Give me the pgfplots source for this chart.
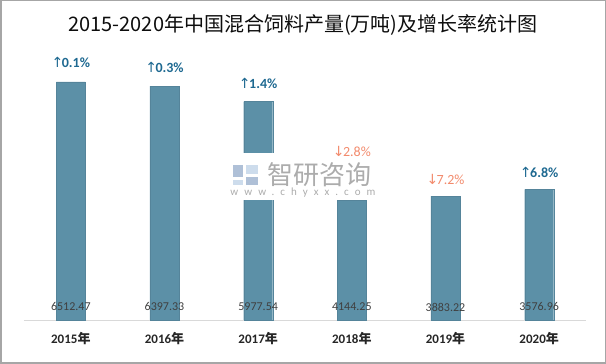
\documentclass[border=0pt]{standalone}
\usepackage{pgfplots}
\pgfplotsset{compat=1.18}
\usepackage{pgfplotstable}
\usepackage{fontspec}
\setmainfont{Carlito}
\newfontfamily\cjk{Noto Sans CJK SC}
\newfontfamily\arrowfont{DejaVu Sans}
\definecolor{barc}{RGB}{92,144,167}
\definecolor{upc}{RGB}{30,105,145}
\definecolor{downc}{RGB}{242,138,108}
\definecolor{valc}{RGB}{64,64,64}
\definecolor{wm}{RGB}{172,172,172}
\definecolor{logoa}{RGB}{205,220,236}
\definecolor{logob}{RGB}{175,192,215}

% visual bar heights and printed values
\pgfplotstableread{
x h lab ly
0 6512.47 6512.47 356
1 6397.33 6397.33 356
2 5977.54 5977.54 356
3 3283 4144.25 356
4 3393 3883.22 356
5 3576.96 3576.96 356
}\prod

\pgfplotstableread{
x y t
0 7059 0.1
1 6923 0.3
2 6485 1.4
5 4050 6.8
}\up

\pgfplotstableread{
x y t
3 4624 2.8
4 3858 7.2
}\down

\begin{document}
\begin{tikzpicture}
\useasboundingbox (0,0) rectangle (606pt,364pt);
\begin{axis}[
  at={(24pt,44pt)}, anchor=south west,
  scale only axis, width=562pt, height=260pt,
  xmin=-0.5, xmax=5.5, ymin=0, ymax=7114.5,
  axis y line=none,
  axis x line*=bottom,
  axis line style={-, draw=black!15, line width=0.8pt},
  xtick={0,1,2,3,4,5},
  xticklabels={{2015{\cjk 年}},{2016{\cjk 年}},{2017{\cjk 年}},{2018{\cjk 年}},{2019{\cjk 年}},{2020{\cjk 年}}},
  major tick length=0pt,
  xticklabel style={font=\fontsize{13}{15}\selectfont\bfseries, text=black!85, yshift=-9pt},
  clip=false,
]
\addplot[ybar, bar width=29pt, fill=barc, draw=barc!92!black, line width=0.3pt] table[x=x, y=h] {\prod};
\addplot[draw=none, mark=none, nodes near coords, point meta=explicit symbolic,
  nodes near coords align={center},
  every node near coord/.append style={font=\fontsize{12}{14}\selectfont, text=valc}]
  table[x=x, y=ly, meta=lab] {\prod};
\addplot[draw=none, mark=none, point meta=explicit symbolic,
  nodes near coords={{\arrowfont\mdseries\fontsize{14}{16}\selectfont ↑}\kern-1.5pt\pgfplotspointmeta\%},
  nodes near coords align={center},
  every node near coord/.append style={font=\fontsize{14}{16}\selectfont\bfseries, text=upc}]
  table[x=x, y=y, meta=t] {\up};
\addplot[draw=none, mark=none, point meta=explicit symbolic,
  nodes near coords={{\arrowfont\fontsize{14}{16}\selectfont ↓}\kern-1.5pt\pgfplotspointmeta\%},
  nodes near coords align={center},
  every node near coord/.append style={font=\fontsize{14}{16}\selectfont, text=downc}]
  table[x=x, y=y, meta=t] {\down};
\end{axis}
% watermark
\fill[white] (236pt,164pt) rectangle (285pt,211pt);
\fill[logob] (233pt,187pt) rectangle (243pt,199pt);
\fill[logoa] (233pt,179pt) rectangle (243pt,184pt);
\fill[logoa] (246pt,190pt) rectangle (258pt,199pt);
\fill[logob] (246pt,179pt) rectangle (258pt,187pt);
\node[text=wm, font=\cjk\fontsize{26}{28}\selectfont] at (319pt,189pt) {智研咨询};
\node[text=wm, font=\fontsize{11}{13}\selectfont\addfontfeature{LetterSpace=55}] at (303pt,171pt) {www.chyxx.com};
% title
\node[font=\cjk\fontsize{20}{24}\selectfont, text=black!95] at (303pt,339pt) {2015-2020年中国混合饲料产量(万吨)及增长率统计图};
% border
\draw[black!35, line width=1.5pt] (0.75pt,0.75pt) rectangle (605.25pt,363.25pt);
\end{tikzpicture}
\end{document}
